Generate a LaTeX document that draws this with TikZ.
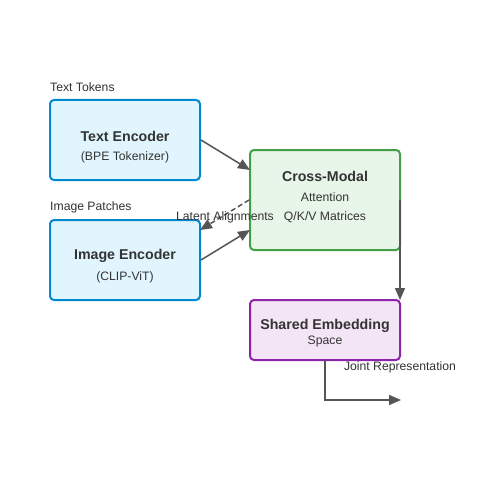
\documentclass[tikz,border=0pt]{standalone}
\usepackage{fontspec}
\setmainfont{Liberation Sans}
\usetikzlibrary{arrows.meta}
\definecolor{txt}{HTML}{333333}
\definecolor{edge}{HTML}{555555}
\definecolor{bluebd}{HTML}{0288D1}
\definecolor{bluefl}{HTML}{E1F5FE}
\definecolor{greenbd}{HTML}{43A047}
\definecolor{greenfl}{HTML}{E8F5E9}
\definecolor{purplebd}{HTML}{8E24AA}
\definecolor{purplefl}{HTML}{F3E5F5}
\tikzset{
  box/.style={draw, line width=2pt, rounded corners=4pt, inner sep=0pt, minimum width=150pt},
  bluebox/.style={box, draw=bluebd, fill=bluefl, minimum height=80pt},
  greenbox/.style={box, draw=greenbd, fill=greenfl, minimum height=100pt},
  purplebox/.style={box, draw=purplebd, fill=purplefl, minimum height=60pt},
  title/.style={text=txt, font=\fontsize{14.2}{16}\selectfont\bfseries, inner sep=0pt},
  sub/.style={text=txt, font=\fontsize{12.2}{14}\selectfont, inner sep=0pt},
  lbl/.style={text=txt, font=\fontsize{12.2}{14}\selectfont, inner sep=0pt},
  conn/.style={draw=edge, line width=1.5pt, -{Triangle[length=12pt,width=10pt]}},
  dashline/.style={dash pattern=on 5pt off 3pt},
}
\begin{document}
\begin{tikzpicture}[x=1pt,y=-1pt]
\useasboundingbox (0,0) rectangle (500,500);
\fill[white] (0,0) rectangle (500,500);
% boxes
\node[bluebox] (te) at (125,140) {};
\node[bluebox] (ie) at (125,260) {};
\node[greenbox] (cm) at (325,200) {};
\node[purplebox] (se) at (325,330) {};
% texts
\node[lbl, anchor=west] (tt) at (50,87) {Text Tokens};
\node[title] (tet) at (125,136) {Text Encoder};
\node[sub] (tes) at (125,157) {(BPE Tokenizer)};
\node[lbl, anchor=west] (ip) at (50,207) {Image Patches};
\node[title] (iet) at (125,256) {Image Encoder};
\node[sub] (ies) at (125,277) {(CLIP-ViT)};
\node[title] (cmt) at (325,176) {Cross-Modal};
\node[sub] (cms) at (325,197) {Attention};
\node[sub] (cmq) at (325,217) {Q/K/V Matrices};
\node[title] (set) at (325,326) {Shared Embedding};
\node[sub] (ses) at (325,342) {Space};
% coordinates
\coordinate (cmin1) at (250,170);
\coordinate (cmin2) at (250,230);
\coordinate (ieup) at (200,230);
\coordinate (cmr) at (400,200);
\coordinate (setop) at (400,300);
\coordinate (seb) at (325,360);
\coordinate (outc) at (401,400);
% edges
\draw[conn] (te.east) -- (cmin1);
\draw[conn] (ie.east) -- (cmin2);
\draw[conn, dashline] (cm.west) -- (ieup);
\draw[conn] (cmr) -- (setop);
\draw[conn] (seb) |- (outc);
\node[lbl] (la) at (225,217) {Latent Alignments};
\node[lbl] (jr) at (400,367) {Joint Representation};
\end{tikzpicture}
\end{document}
